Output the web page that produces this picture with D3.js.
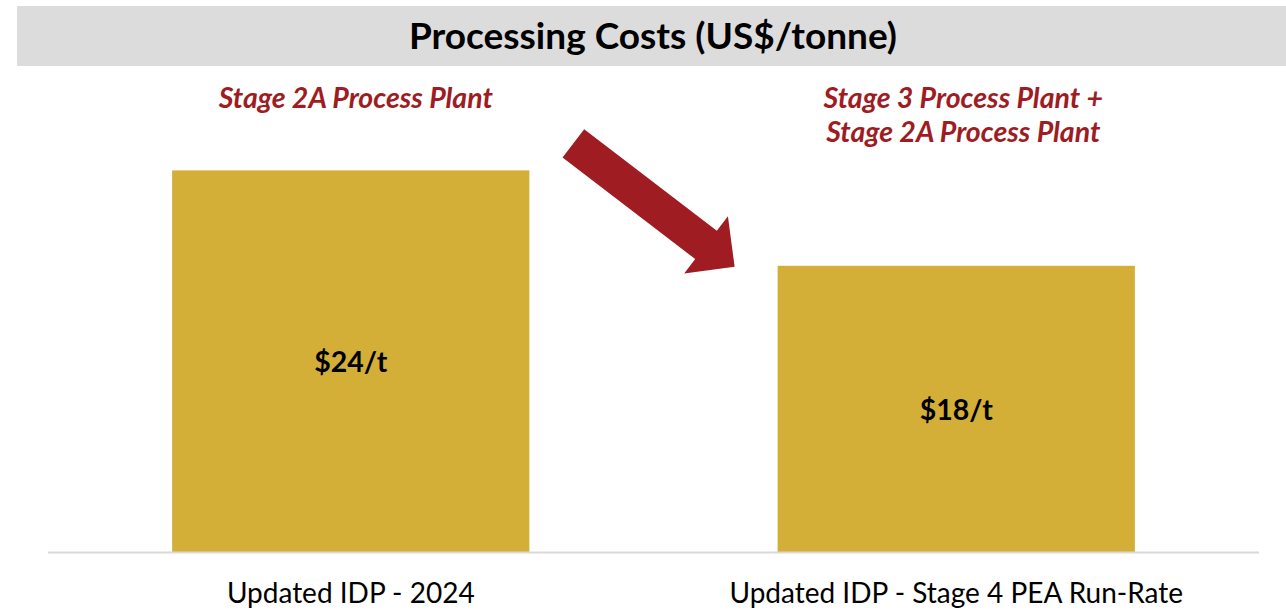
<!DOCTYPE html>
<html>
<head>
<meta charset="utf-8">
<script src="https://cdn.jsdelivr.net/npm/d3@7"></script>
<style>
  html, body { margin: 0; padding: 0; background: #fff; }
  svg { display: block; font-family: Lato, "Open Sans", sans-serif; }
</style>
</head>
<body>
<svg id="chart" width="1286" height="610"></svg>
<script>
// Processing cost per tonne, two scenarios
const categories = ["Updated IDP - 2024", "Updated IDP - Stage 4 PEA Run-Rate"];
const costs = [24, 18];
const valueLabels = ["$24/t", "$18/t"];
const plantNotes = [
  ["Stage 2A Process Plant"],
  ["Stage 3 Process Plant +", "Stage 2A Process Plant"]
];
const title = "Processing Costs (US$/tonne)";

const W = 1286, H = 610;
const gold = "#D3AF37", red = "#9E1C22";
const svg = d3.select("#chart");

// Title banner
svg.append("rect").attr("x", 17).attr("y", 6).attr("width", W - 17).attr("height", 60)
  .attr("fill", "#DCDCDC");
svg.append("text").attr("x", 653).attr("y", 49).attr("text-anchor", "middle")
  .attr("font-size", 37).attr("font-weight", 700).attr("fill", "#000").text(title);

// Scales
const plotLeft = 48, plotRight = 1259, baseY = 552;
const x = d3.scaleBand().domain(categories).range([plotLeft, plotRight]).paddingInner(0.41).paddingOuter(0.205);
const y = d3.scaleLinear().domain([0, 30]).range([baseY, baseY - 477]);

// Bars
svg.selectAll("rect.bar").data(categories).join("rect").attr("class", "bar")
  .attr("x", d => x(d)).attr("width", x.bandwidth())
  .attr("y", (d, i) => y(costs[i])).attr("height", (d, i) => y(0) - y(costs[i]))
  .attr("fill", gold);

// Baseline
svg.append("line").attr("x1", plotLeft).attr("x2", plotRight).attr("y1", baseY + 0.5).attr("y2", baseY + 0.5)
  .attr("stroke", "#D9D9D9").attr("stroke-width", 2);

// Value labels centred in bars
svg.selectAll("text.val").data(categories).join("text").attr("class", "val")
  .attr("x", d => x(d) + x.bandwidth() / 2)
  .attr("y", (d, i) => (y(costs[i]) + y(0)) / 2 + 11)
  .attr("text-anchor", "middle").attr("font-size", 28.5).attr("font-weight", 700).attr("fill", "#000")
  .text((d, i) => valueLabels[i]);

// Category axis labels
const xAxis = d3.axisBottom(x).tickSize(0).tickPadding(0);
const gx = svg.append("g").attr("transform", `translate(0,${baseY})`).call(xAxis);
gx.select(".domain").remove();
gx.selectAll("text").attr("dy", 0).attr("y", 51).attr("font-size", 28).attr("fill", "#000")
  .attr("font-family", "Lato, 'Open Sans', sans-serif");

// Plant notes above bars
plantNotes.forEach((lines, i) => {
  const cx = x(categories[i]) + x.bandwidth() / 2 + (i === 0 ? 5 : 7);
  lines.forEach((t, j) => {
    svg.append("text").attr("x", cx).attr("y", 108 + j * 34).attr("text-anchor", "middle")
      .attr("font-size", 28.5).attr("font-weight", 700).attr("font-style", "italic")
      .attr("fill", red).text(t);
  });
});

// Block arrow from the first bar down toward the second
const tail = [x(categories[0]) + x.bandwidth() + 44, y(costs[0]) - 27];
const tip = [x(categories[1]) - 43, y(costs[1]) + 1];
const dx = tip[0] - tail[0], dy = tip[1] - tail[1];
const len = Math.hypot(dx, dy), ang = Math.atan2(dy, dx) * 180 / Math.PI;
const sw = 17.8, hw = 36, hl = 36;
const arrowPts = [[0, -sw], [len - hl, -sw], [len - hl, -hw], [len, 0], [len - hl, hw], [len - hl, sw], [0, sw]];
svg.append("polygon")
  .attr("points", arrowPts.map(p => p.join(",")).join(" "))
  .attr("transform", `translate(${tail[0]},${tail[1]}) rotate(${ang})`)
  .attr("fill", red);
</script>
</body>
</html>
